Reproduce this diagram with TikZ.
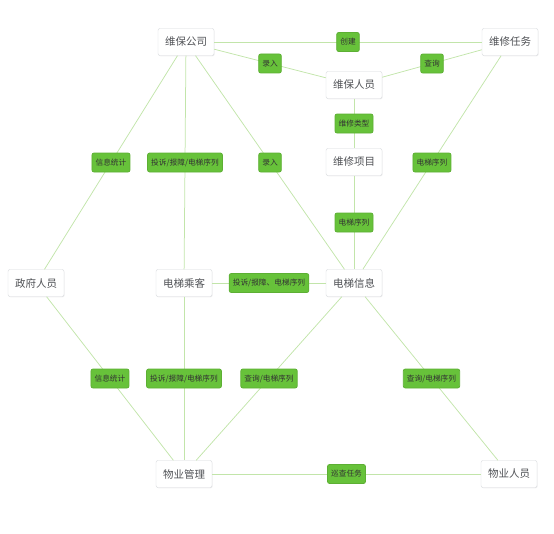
\documentclass[tikz,border=0pt]{standalone}
\usepackage{fontspec}
\newfontfamily\cjk{Noto Sans CJK SC}
\usepackage{tikz}
\usetikzlibrary{positioning}
\usetikzlibrary{shadows}

\definecolor{tagfill}{HTML}{67C23A}
\definecolor{tagline}{HTML}{C2E5AA}
\definecolor{boxline}{HTML}{D6D8DC}
\definecolor{boxtext}{HTML}{505256}

\begin{document}
\begin{tikzpicture}[
    x=1pt, y=1pt,
    box/.style={align=center, rectangle, rounded corners=2pt, draw=boxline, fill=white, text=boxtext,
        font=\cjk\fontsize{10.5}{12}\selectfont, minimum width=56pt, minimum height=27pt,
        drop shadow={opacity=0.12, shadow xshift=0.6pt, shadow yshift=-0.8pt}},
    tag/.style={rectangle, rounded corners=2pt, draw=tagfill!90!black, fill=tagfill, text=black!80,
        font=\cjk\fontsize{7.7}{9}\selectfont, inner xsep=3.6pt, minimum height=19pt},
    link/.style={draw=tagline, line width=0.75pt},
    on grid,
]
    \useasboundingbox (0,0) rectangle (554,-533);

    \node[box] (N1) at (186,-42) {维保公司};
    \node[box] (N2) [right=324pt of N1] {维修任务};
    \node[box] (N3) [below right=43pt and 168pt of N1] {维保人员};
    \node[box] (N4) [below=77pt of N3] {维修项目};
    \node[box] (N7) [below=121pt of N4] {电梯信息};
    \node[box] (N6) [left=170pt of N7] {电梯乘客};
    \node[box] (N5) [left=148pt of N6] {政府人员};
    \node[box] (N8) [below=191pt of N6] {物业管理};
    \node[box] (N9) [right=325pt of N8] {物业人员};

    \draw[link] (N1) -- node[tag] {创建} (N2);
    \draw[link] (N1) -- node[tag] {录入} (N3);
    \draw[link] (N3) -- node[tag] {查询} (N2);
    \draw[link] (N3) -- node[tag] {维修类型} (N4);
    \draw[link] (N1) -- node[tag] {信息统计} (N5);
    \draw[link] (N1) -- node[tag] {投诉/报障/电梯序列} (N6);
    \draw[link] (N1) -- node[tag] {录入} (N7);
    \draw[link] (N4) -- node[tag] {电梯序列} (N7);
    \draw[link] (N2) -- node[tag] {电梯序列} (N7);
    \draw[link] (N6) -- node[tag] {投诉/报障、电梯序列} (N7);

    \draw[link] (N5) -- node[tag] {信息统计} (N8);
    \draw[link] (N6) -- node[tag] {投诉/报障/电梯序列} (N8);
    \draw[link] (N7) -- node[tag] {查询/电梯序列} (N8);
    \draw[link] (N7) -- node[tag] {查询/电梯序列} (N9);
    \draw[link] (N8) -- node[tag] {巡查任务} (N9);

\end{tikzpicture}
\end{document}
